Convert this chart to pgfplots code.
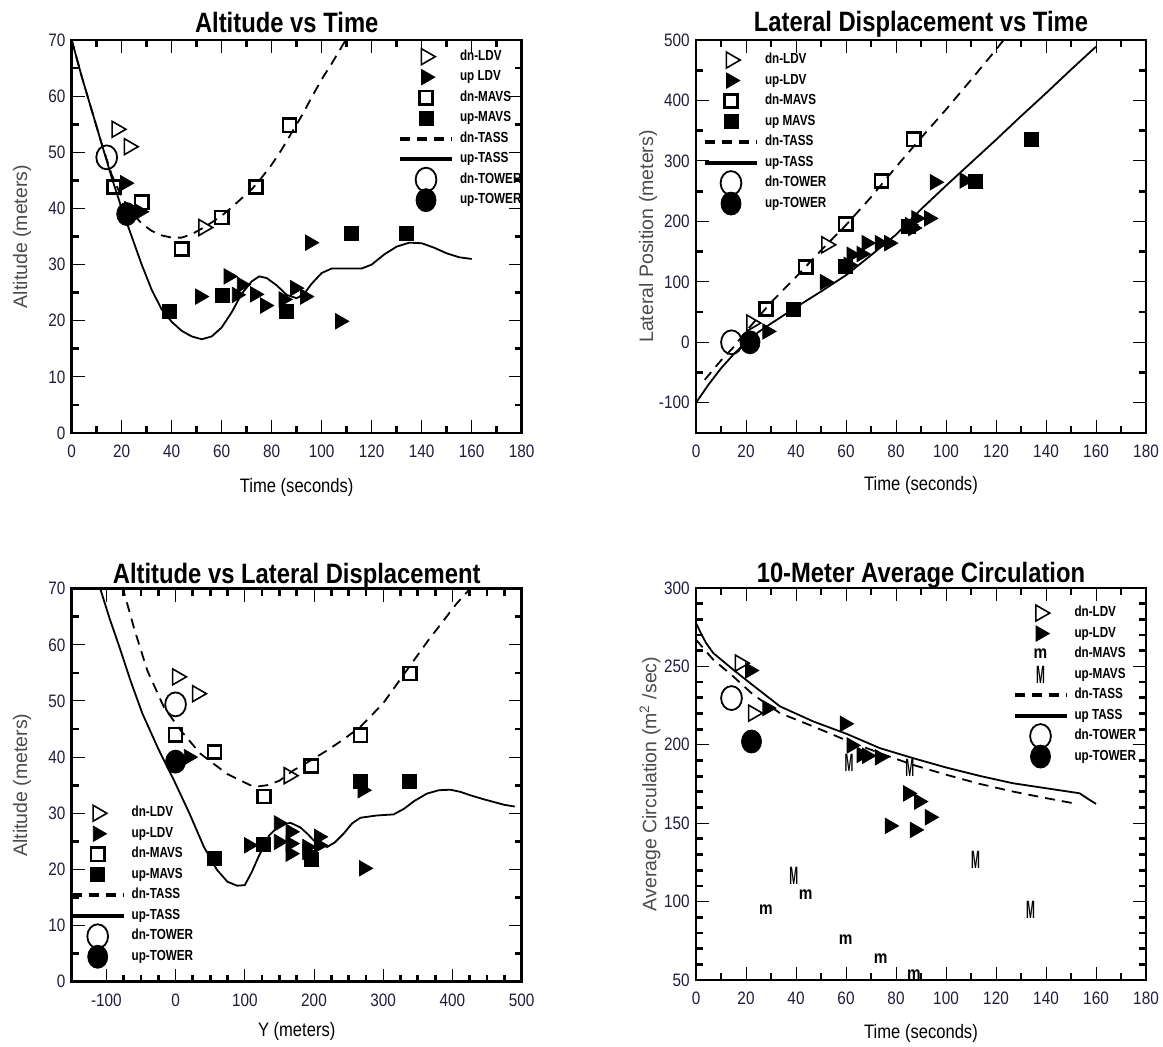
\documentclass[border=0pt]{standalone}
\usepackage{fontspec}
\setmainfont[FakeStretch=0.85]{Liberation Sans}
\newfontfamily\rotfont{Liberation Sans}
\newfontfamily\legfont[FakeStretch=0.8]{Liberation Sans}
\usepackage{graphicx}
\usepackage{pgfplots}
\pgfplotsset{compat=1.18}

\definecolor{ticknavy}{RGB}{30,30,60}
\definecolor{labelgray}{RGB}{75,75,75}

\pgfplotsset{
  legimg/.style={legend image code/.code={%
    \pgfpathrectangle{\pgfqpoint{0pt}{-5.1pt}}{\pgfqpoint{26pt}{10.2pt}}\pgfusepath{discard}%
    \begin{pgfinterruptboundingbox}%
    \draw[mark repeat=2,mark phase=2,##1] plot coordinates {(0pt,0pt) (13pt,0pt) (26pt,0pt)};%
    \end{pgfinterruptboundingbox}%
  }},
  panel/.style={
    scale only axis, width=225pt, height=196.5pt,
    axis line style={line width=1.4pt},
    tick align=inside,
    major tick length=6.5pt, minor tick length=3.5pt,
    tick style={black},
    major tick style={line width=0.5pt},
    minor tick style={line width=1.4pt},
    scaled ticks=false,
    /pgf/number format/assume math mode=true,
    tick label style={font=\fontsize{9}{9}\selectfont, text=ticknavy},
    xticklabel style={anchor=north, inner sep=0pt, yshift=-6pt},
    yticklabel style={anchor=east, inner sep=0pt, xshift=-3pt},
    xlabel style={font=\fontsize{9.75}{9.75}\selectfont, text=black,
      at={(axis description cs:0.5,0)}, anchor=base},
    ylabel style={font=\rotfont\fontsize{9.75}{9.75}\selectfont, text=labelgray, anchor=center},
    title style={font=\bfseries\fontsize{14}{14}\selectfont, at={(0.5,1)}, anchor=base},
    legend cell align=left,
    legend style={draw=none, fill=none, inner sep=0pt, outer sep=0pt,
      row sep=0pt, column sep=4pt,
      font=\legfont\bfseries\fontsize{7.3}{7.3}\selectfont, text=black,
      nodes={inner sep=0pt, text height=6.9pt, text depth=3.35pt},
      cells={anchor=west}},
    legimg,
  },
  dnLDV/.style={only marks, legimg, mark=triangle, mark size=4.6pt,
    mark options={rotate=-90, line width=0.8pt, black, solid}},
  upLDV/.style={only marks, legimg, mark=triangle*, mark size=4.4pt,
    mark options={rotate=-90, fill=black, draw=black, solid}},
  dnMAVS/.style={only marks, legimg, mark=square, mark size=3.3pt,
    mark options={line width=1.3pt, black, solid}},
  upMAVS/.style={only marks, legimg, mark=square*, mark size=3.5pt,
    mark options={fill=black, draw=black, solid}},
  dnTASS/.style={no marks, black, line width=0.9pt, dash pattern=on 5pt off 3.5pt,
    legend image post style={line width=2pt}},
  upTASS/.style={no marks, black, line width=0.9pt, legend image post style={line width=2pt}},
  dnTOWER/.style={only marks, legimg, mark=o, mark size=5.2pt,
    mark options={yscale=1.15, line width=0.9pt, black, solid}},
  upTOWER/.style={only marks, legimg, mark=*, mark size=5pt,
    mark options={yscale=1.15, fill=black, draw=black, solid}},
  dnMAVSm/.style={only marks, legimg, mark=text,
    text mark={\bfseries\fontsize{9}{9}\selectfont m}},
  upMAVSM/.style={only marks, legimg, mark=text,
    text mark={\scalebox{0.5}[1]{\bfseries\fontsize{12.5}{12.5}\selectfont M}}},
}

\begin{document}
\begin{tikzpicture}
\path[use as bounding box] (0pt,0pt) rectangle (581.5pt,-523.5pt);

% ---------------- Altitude vs Time ----------------
\begin{axis}[panel, at={(35.85pt,-216.5pt)}, anchor=south west,
  xmin=0, xmax=180, ymin=0, ymax=70,
  xtick={0,20,...,180}, minor x tick num=1,
  ytick={0,10,...,70}, minor y tick num=1,
  title={Altitude vs Time}, title style={yshift=-2pt, xshift=-5pt},
  xlabel={Time (seconds)}, xlabel style={yshift=-30pt},
  ylabel={Altitude (meters)}, ylabel style={at={(axis description cs:-0.1104,0.5)}},
  legend style={at={(0.7296,0.9837)}, anchor=north west}]
\addplot[dnLDV] coordinates {(18,54.1) (22.9,51.0) (52.7,36.6)};
\addplot[upLDV] coordinates {(21.3,44.5) (27.3,39.4) (51.3,24.3) (62.7,27.9) (66,24.6) (68,26.4)
  (73.3,24.7) (77.3,22.7) (84.7,23.8) (89.3,25.8) (93.3,24.3) (95.3,33.9) (107.3,19.9)};
\addplot[dnMAVS] coordinates {(16.9,43.8) (28,41.1) (44,32.8) (60,38.4) (73.7,43.8) (87.1,54.8)};
\addplot[upMAVS] coordinates {(38.9,21.7) (60.3,24.5) (86,21.7) (112,35.6) (134,35.5)};
\addplot[dnTASS] coordinates {(0,70) (4,63.5) (8,57.5) (12,51.5) (16,46) (20,42) (24,39.3) (28,37.3)
  (32,36) (36,35.2) (40,34.8) (44,34.8) (48,35.4) (52,36.4) (56,37.5) (60,38.7) (64,40.2) (68,41.8)
  (72,43.4) (76,45.5) (80,47.8) (84,50.5) (88,53.5) (92,56.5) (96,59.8) (100,63) (104,65.8)
  (108,68.8) (110,70.3)};
\addplot[upTASS] coordinates {(0,70) (4,63.5) (8,57.5) (12,51.5) (16,45.5) (20,40) (24,35) (28,30)
  (32,25.5) (36,22) (40,19.8) (44,18.2) (48,17.2) (52,16.7) (56,17.2) (60,18.8) (64,21.5) (68,24.8)
  (72,27) (75,27.9) (78,27.6) (82,26.3) (86,24.6) (90,24) (93,24.8) (96,26.6) (100,28.5) (104,29.3)
  (110,29.3) (116,29.3) (120,30) (125,31.8) (130,33.2) (135,33.9) (140,33.8) (145,33) (150,32)
  (155,31.3) (160,31)};
\addplot[dnTOWER] coordinates {(14,49.1)};
\addplot[upTOWER] coordinates {(22,39)};
\legend{dn-LDV, up LDV, dn-MAVS, up-MAVS, dn-TASS, up-TASS, dn-TOWER, up-TOWER}
\end{axis}

% ---------------- Lateral Displacement vs Time ----------------
\begin{axis}[panel, at={(348pt,-216.5pt)}, anchor=south west,
  xmin=0, xmax=180, ymin=-150, ymax=500,
  xtick={0,20,...,180}, minor x tick num=1,
  ytick={-100,0,...,500}, minor y tick num=1,
  title={Lateral Displacement vs Time}, title style={yshift=-2pt},
  xlabel={Time (seconds)}, xlabel style={yshift=-29pt},
  ylabel={Lateral Position (meters)}, ylabel style={at={(axis description cs:-0.1065,0.5)}},
  legend style={at={(0.020,0.975)}, anchor=north west}]
\addplot[dnLDV] coordinates {(22.2,31.8) (52.2,161.3)};
\addplot[upLDV] coordinates {(28.5,18) (51.5,99.6) (61,128) (62.2,144.7) (66.2,146) (68.2,164)
  (73.5,164) (77.2,164) (85.5,194) (86.8,189) (88.1,205) (93.2,205) (95.5,264.8) (107.4,267.6)};
\addplot[dnMAVS] coordinates {(28,55) (43.9,124.4) (59.9,195.4) (74.2,267) (87.1,335.9)};
\addplot[upMAVS] coordinates {(39.1,55) (59.8,125) (84.8,191.6) (111.8,266) (134,335.9)};
\addplot[dnTASS] coordinates {(3.5,-62) (10,-30) (15,-8) (20,18) (25,42) (30,66) (40,108) (50,152)
  (60,194) (70,240) (80,290) (90,338) (100,385) (110,434) (120,484) (124,505)};
\addplot[upTASS] coordinates {(0,-100) (5,-70) (10,-43) (15,-20) (20,0) (25,17) (30,31) (40,58)
  (50,84) (60,111) (70,144) (80,178) (90,220) (100,259) (110,297) (120,335) (130,374) (140,412)
  (150,451) (160,489)};
\addplot[dnTOWER] coordinates {(14.2,0)};
\addplot[upTOWER] coordinates {(21.6,0)};
\legend{dn-LDV, up-LDV, dn-MAVS, up MAVS, dn-TASS, up-TASS, dn-TOWER, up-TOWER}
\end{axis}

% ---------------- Altitude vs Lateral Displacement ----------------
\begin{axis}[panel, at={(35.85pt,-490.85pt)}, anchor=south west,
  xmin=-150, xmax=500, ymin=0, ymax=70,
  xtick={-100,0,...,500}, minor x tick num=3,
  ytick={0,10,...,70}, minor y tick num=1,
  title={Altitude vs Lateral Displacement}, title style={yshift=-3.25pt},
  xlabel={Y (meters)}, xlabel style={yshift=-27.5pt},
  ylabel={Altitude (meters)}, ylabel style={at={(axis description cs:-0.1104,0.5)}},
  legend style={at={(0,0.4547)}, anchor=north west}]
\addplot[dnLDV] coordinates {(2.4,54.3) (31.3,51.3) (163.7,36.7)};
\addplot[upLDV] coordinates {(19,40) (106,24.3) (149,28.2) (149,24.9) (166,26.7) (166,24.6)
  (166,22.8) (190,24) (190,23.1) (207,25.8) (207,24.3) (270,34.1) (272,20.2)};
\addplot[dnMAVS] coordinates {(0,44) (56.3,40.9) (127.6,33) (196,38.4) (267.2,43.9) (338.5,54.9)};
\addplot[upMAVS] coordinates {(56.3,21.9) (127.6,24.5) (196.4,21.8) (267.2,35.7) (338.5,35.6)};
\addplot[dnTASS] coordinates {(-77,70.5) (-60,63) (-41,55.5) (-16.8,48.9) (7.2,44.8) (36,40.6)
  (74.6,37) (108,35) (120,34.8) (132.4,35) (150,35.8) (171,37.7) (195,39.4) (219,41.2) (243,43.2)
  (267,45.4) (300,49.6) (339.4,56.4) (365,60.8) (387.6,64.4) (405,67.2) (421,69.4) (430,70.8)};
\addplot[upTASS] coordinates {(-110,71) (-108,69.7) (-95,64.6) (-81,59.6) (-65,53.6) (-48,47.8)
  (-25,41.5) (-2.4,35.9) (20,30) (41,24) (60,19.9) (75,17.8) (89,17.1) (100,17.2) (110,19.5)
  (120,22.3) (135,26) (150,27.9) (166,28.3) (180,27.5) (190,26.4) (205,24.5) (219,24) (230,24.8)
  (243,26.4) (255,28.2) (267,29.2) (290,29.6) (315,29.8) (330,30.8) (345,32.2) (363,33.5)
  (380,34.1) (397,34.2) (412,33.8) (426,33.2) (445,32.5) (460,32) (475,31.5) (490,31.2)};
\addplot[dnTOWER] coordinates {(0,49.4)};
\addplot[upTOWER] coordinates {(0,39.2)};
\legend{dn-LDV, up-LDV, dn-MAVS, up-MAVS, dn-TASS, up-TASS, dn-TOWER, up-TOWER}
\end{axis}

% ---------------- 10-Meter Average Circulation ----------------
\begin{axis}[panel, at={(348pt,-490pt)}, anchor=south west, height=196pt,
  xmin=0, xmax=180, ymin=50, ymax=300,
  xtick={0,20,...,180}, minor x tick num=1,
  ytick={50,100,...,300}, minor y tick num=4,
  title={10-Meter Average Circulation}, title style={yshift=-3.25pt},
  xlabel={Time (seconds)}, xlabel style={yshift=-29pt},
  ylabel={Average Circulation (m\textsuperscript{2} /sec)}, ylabel style={at={(axis description cs:-0.102,0.5)}},
  legend style={at={(0.7078,0.9622)}, anchor=north west}]
\addplot[dnLDV] coordinates {(17.6,252.1) (22.9,220.2)};
\addplot[upLDV] coordinates {(21.6,247.4) (28.5,223.4) (59.5,213.4) (62.2,199.6) (66.2,193.6)
  (68.4,193) (73.5,192) (84.8,169) (89.2,163.8) (93.5,153.8) (77.5,148.3) (87.5,145.7)};
\addplot[dnMAVSm] coordinates {(28,95.1) (43.9,104.3) (59.9,75.5) (73.9,63.4) (87.2,53.6)};
\addplot[upMAVSM] coordinates {(39.1,116.4) (61.2,188.7) (85.5,185.5) (111.8,126.6) (133.8,94.7)};
\addplot[dnTASS] coordinates {(0,267) (6.9,254.3) (14.9,243.6) (22.9,231.9) (33.6,220.2)
  (46.9,211.7) (60.2,202.8) (73.5,194.7) (86.8,187.2) (100.1,180.9) (113.4,175.1) (126.7,170.2)
  (140,166) (150.7,162.8)};
\addplot[upTASS] coordinates {(0,277.7) (2,271) (4,265) (6.9,258.5) (14.9,247.9) (21.6,239.4)
  (33.6,224.5) (46.9,214.9) (60.2,207) (73.5,197.9) (86.8,191.5) (100.1,185.5) (113.4,180.2)
  (126.7,175.5) (140,172.3) (153.4,169.1) (157.4,164.9) (160,162.3)};
\addplot[dnTOWER] coordinates {(14.2,229.8)};
\addplot[upTOWER] coordinates {(22.2,202.1)};
\legend{dn-LDV, up-LDV, dn-MAVS, up-MAVS, dn-TASS, up TASS, dn-TOWER, up-TOWER}
\end{axis}
\end{tikzpicture}
\end{document}
